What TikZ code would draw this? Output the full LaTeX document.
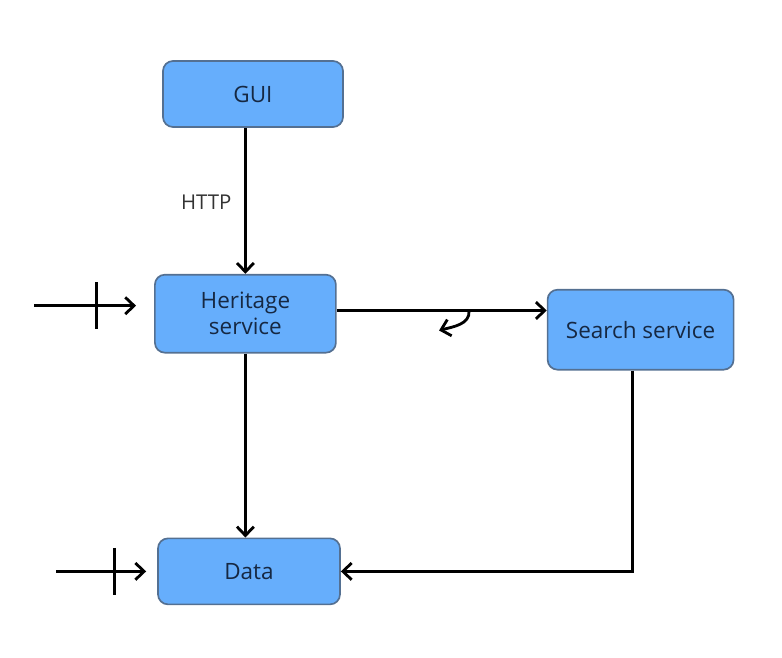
\documentclass[tikz,border=0pt]{standalone}
\usepackage{fontspec}
\setmainfont{Open Sans}
\usepackage{tikz}
\usetikzlibrary{positioning}
\usetikzlibrary{arrows.meta}
\definecolor{boxfill}{RGB}{102,174,252}
\definecolor{boxline}{RGB}{84,112,146}
\definecolor{boxtext}{RGB}{22,40,66}

\begin{document}
\begin{tikzpicture}
          [svc/.style={draw=boxline, line width=1.2pt, fill=boxfill, rounded corners=0.25cm,
                       text=boxtext, align=center, inner sep=0pt,
                       font=\fontsize{16}{18.5}\selectfont},
           link/.style={line width=2pt, -{Straight Barb[length=0.22cm, width=0.42cm]}}]
          \useasboundingbox (0,0) rectangle (19.55,-16.425);

          \node (gui) [svc, minimum width=4.5cm, minimum height=1.65cm] at (6.325,-2.35) {GUI};
          \node (heritage) [svc, minimum width=4.525cm, minimum height=1.95cm, below = 3.65cm of gui, xshift=-0.19cm] {Heritage\\service};
          \node (search) [svc, minimum width=4.65cm, minimum height=2cm, right = 5.25cm of heritage, yshift=-0.4cm] {Search service};
          \node (data) [svc, minimum width=4.55cm, minimum height=1.65cm, below = 4.6cm of heritage, xshift=0.09cm] {Data};

          \coordinate (hin) at ([xshift=-3cm, yshift=0.2cm]heritage.west);
          \coordinate (din) at ([xshift=-2.525cm]data.west);

          \draw[link] (gui.south -| heritage.north) -- (heritage.north)
            node[pos=0.51, left=0.2cm, font=\fontsize{14.5}{16}\selectfont, text=black!80] {HTTP};
          \draw[link] ([yshift=0.08cm]heritage.east) -- ([yshift=0.08cm]heritage.east -| search.west) coordinate[pos=0.63] (bend);
          \coordinate (back) at ([xshift=-0.75cm, yshift=-0.5cm]bend);
          \draw[link] (bend) to[out=-85, in=15] (back);
          \draw[link] (heritage.south) -- (heritage.south |- data.north);
          \draw[link] ([xshift=-0.2cm]search.south) |- (data.east);

          \draw[link, shorten >= 0.45cm] (hin) -- ([yshift=0.2cm]heritage.west) coordinate[pos=0.52] (htick);
          \draw[line width=2pt] ([yshift=0.59cm]htick) -- ([yshift=-0.59cm]htick);
          \draw[link, shorten >= 0.275cm] (din) -- (data.west) coordinate[pos=0.58] (dtick);
          \draw[line width=2pt] ([yshift=0.59cm]dtick) -- ([yshift=-0.59cm]dtick);

        \end{tikzpicture}
\end{document}
